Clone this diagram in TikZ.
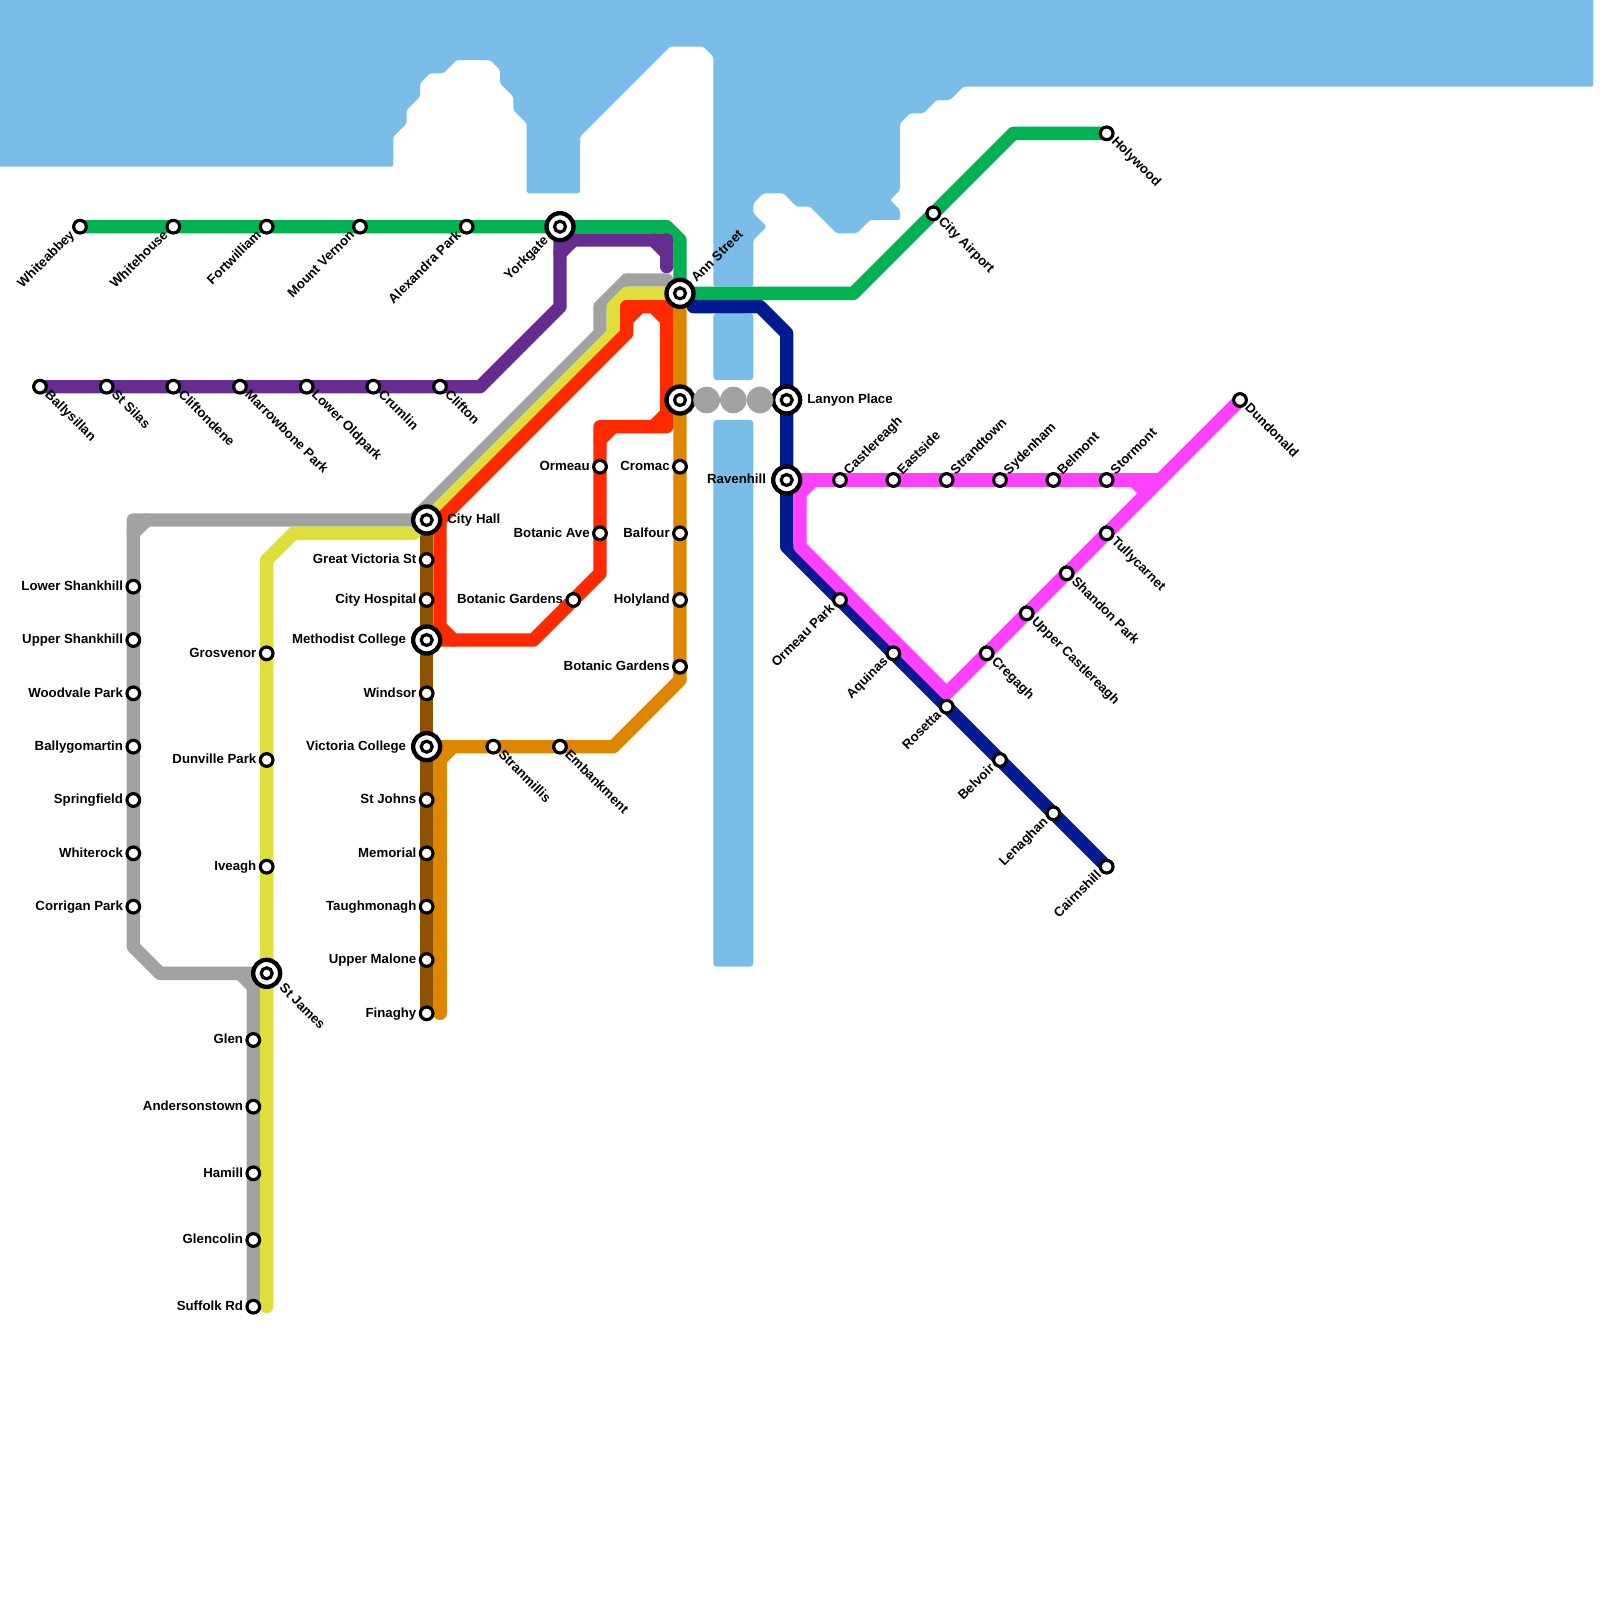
\documentclass[tikz,border=0pt]{standalone}
\usepackage{fontspec}
\setmainfont{Liberation Sans}
\pgfdeclarelayer{bg}
\pgfsetlayers{bg,main}
\definecolor{water}{HTML}{7ABDE9}
\definecolor{lgreen}{HTML}{00B251}
\definecolor{lpurple}{HTML}{662C90}
\definecolor{lgrey}{HTML}{A2A2A2}
\definecolor{lyellow}{HTML}{DFDF3B}
\definecolor{lred}{HTML}{FF2A00}
\definecolor{lorange}{HTML}{DF8600}
\definecolor{lbrown}{HTML}{8E5200}
\definecolor{lnavy}{HTML}{001A8F}
\definecolor{lpink}{HTML}{FF40FF}
\tikzset{
  x=0.4cm,y=-0.4cm,
  route/.style={line width=0.4cm,line cap=round,line join=round,draw=#1},
  waterarea/.style={fill=water,rounded corners=0.05cm},
  riverarea/.style={fill=water,rounded corners=0.1cm},
  stnmark/.style={circle,draw=black,fill=white,line width=0.095cm,inner sep=0pt,outer sep=0pt,minimum size=0.38cm},
  xchmark/.style={circle,draw=black,fill=white,line width=0.13cm,inner sep=0pt,outer sep=0pt,minimum size=0.81cm},
  xchcore/.style={circle,draw=black,fill=white,line width=0.095cm,inner sep=0pt,outer sep=0pt,minimum size=0.33cm},
  bubble/.style={circle,fill=lgrey,inner sep=0pt,outer sep=0pt,minimum size=0.8cm},
  txt/.style={inner sep=0pt,outer sep=0pt,font=\bfseries\fontsize{11.3}{13}\selectfont},
  L/.style={txt,anchor=mid east,xshift=-0.31cm,yshift=-0.02cm},
  R/.style={txt,anchor=mid west,xshift=0.31cm,yshift=-0.02cm},
  XL/.style={txt,anchor=mid east,xshift=-0.62cm,yshift=-0.02cm},
  XR/.style={txt,anchor=mid west,xshift=0.62cm,yshift=-0.02cm},
  UL/.style={txt,xshift=-0.21cm,yshift=-0.21cm,rotate=45,anchor=mid east},
  UR/.style={txt,xshift=0.21cm,yshift=0.21cm,rotate=45,anchor=mid west},
  DR/.style={txt,xshift=0.2cm,yshift=-0.2cm,rotate=-45,anchor=mid west},
  XUL/.style={txt,xshift=-0.4cm,yshift=-0.38cm,rotate=45,anchor=mid east},
  XUR/.style={txt,xshift=0.43cm,yshift=0.38cm,rotate=45,anchor=mid west},
  XDR/.style={txt,xshift=0.43cm,yshift=-0.4cm,rotate=-45,anchor=mid west},
}
\newcommand\stn[5]{\node[stnmark] (#1) at (#2,#3) {};\node[#5] (#1-t) at (#2,#3) {#4};}
\newcommand\xch[5]{\node[xchmark] (#1) at (#2,#3) {};\node[xchcore] (#1-i) at (#2,#3) {};\node[#5] (#1-t) at (#2,#3) {#4};}
\newcommand\xchb[3]{\node[xchmark] (#1) at (#2,#3) {};\node[xchcore] (#1-i) at (#2,#3) {};}
\begin{document}
\begin{tikzpicture}
\useasboundingbox (0,0) rectangle (120,120);
% green
\stn{whiteabbey}{6}{17}{Whiteabbey}{UL}
\stn{whitehouse}{13}{17}{Whitehouse}{UL}
\stn{fortwilliam}{20}{17}{Fortwilliam}{UL}
\stn{mountvernon}{27}{17}{Mount Vernon}{UL}
\stn{alexandra}{35}{17}{Alexandra Park}{UL}
\xch{yorkgate}{42}{17}{Yorkgate}{XUL}
\xch{annst}{51}{22}{Ann Street}{XUR}
\stn{cityairport}{70}{16}{City Airport}{DR}
\stn{holywood}{83}{10}{Holywood}{DR}
% purple
\stn{ballysillan}{3}{29}{Ballysillan}{DR}
\stn{stsilas}{8}{29}{St Silas}{DR}
\stn{cliftondene}{13}{29}{Cliftondene}{DR}
\stn{marrowbone}{18}{29}{Marrowbone Park}{DR}
\stn{loweroldpark}{23}{29}{Lower Oldpark}{DR}
\stn{crumlin}{28}{29}{Crumlin}{DR}
\stn{clifton}{33}{29}{Clifton}{DR}
% grey
\stn{lowershankhill}{10}{44}{Lower Shankhill}{L}
\stn{uppershankhill}{10}{48}{Upper Shankhill}{L}
\stn{woodvale}{10}{52}{Woodvale Park}{L}
\stn{ballygomartin}{10}{56}{Ballygomartin}{L}
\stn{springfield}{10}{60}{Springfield}{L}
\stn{whiterock}{10}{64}{Whiterock}{L}
\stn{corrigan}{10}{68}{Corrigan Park}{L}
\stn{glen}{19}{78}{Glen}{L}
\stn{andersonstown}{19}{83}{Andersonstown}{L}
\stn{hamill}{19}{88}{Hamill}{L}
\stn{glencolin}{19}{93}{Glencolin}{L}
\stn{suffolk}{19}{98}{Suffolk Rd}{L}
% yellow
\stn{grosvenor}{20}{49}{Grosvenor}{L}
\stn{dunville}{20}{57}{Dunville Park}{L}
\stn{iveagh}{20}{65}{Iveagh}{L}
\xch{stjames}{20}{73}{St James}{XDR}
% brown
\xch{cityhall}{32}{39}{City Hall}{XR}
\stn{gvs}{32}{42}{Great Victoria St}{L}
\stn{cityhospital}{32}{45}{City Hospital}{L}
\xch{methodist}{32}{48}{Methodist College}{XL}
\stn{windsor}{32}{52}{Windsor}{L}
\xch{victoria}{32}{56}{Victoria College}{XL}
\stn{stjohns}{32}{60}{St Johns}{L}
\stn{memorial}{32}{64}{Memorial}{L}
\stn{taughmonagh}{32}{68}{Taughmonagh}{L}
\stn{uppermalone}{32}{72}{Upper Malone}{L}
\stn{finaghy}{32}{76}{Finaghy}{L}
% orange
\stn{stranmillis}{37}{56}{Stranmillis}{DR}
\stn{embankment}{42}{56}{Embankment}{DR}
\xchb{gtvenue}{51}{30}
\stn{cromac}{51}{35}{Cromac}{L}
\stn{balfour}{51}{40}{Balfour}{L}
\stn{holyland}{51}{45}{Holyland}{L}
\stn{botanicgardensb}{51}{50}{Botanic Gardens}{L}
% red
\stn{ormeau}{45}{35}{Ormeau}{L}
\stn{botanicave}{45}{40}{Botanic Ave}{L}
\stn{botanicgardensa}{43}{45}{Botanic Gardens}{L}
% navy
\xch{lanyon}{59}{30}{Lanyon Place}{XR}
\xch{ravenhill}{59}{36}{Ravenhill}{XL}
\stn{ormeaupark}{63}{45}{Ormeau Park}{UL}
\stn{aquinas}{67}{49}{Aquinas}{UL}
\stn{rosetta}{71}{53}{Rosetta}{UL}
\stn{belvoir}{75}{57}{Belvoir}{UL}
\stn{lenaghan}{79}{61}{Lenaghan}{UL}
\stn{cairnshill}{83}{65}{Cairnshill}{UL}
% pink
\stn{castlereagh}{63}{36}{Castlereagh}{UR}
\stn{eastside}{67}{36}{Eastside}{UR}
\stn{strandtown}{71}{36}{Strandtown}{UR}
\stn{sydenham}{75}{36}{Sydenham}{UR}
\stn{belmont}{79}{36}{Belmont}{UR}
\stn{stormont}{83}{36}{Stormont}{UR}
\stn{tullycarnet}{83}{40}{Tullycarnet}{DR}
\stn{shandon}{80}{43}{Shandon Park}{DR}
\stn{uppercastlereagh}{77}{46}{Upper Castlereagh}{DR}
\stn{cregagh}{74}{49}{Cregagh}{DR}
\stn{dundonald}{93}{30}{Dundonald}{DR}
% bubbles
\node[bubble] (bub1) at (53,30) {};
\node[bubble] (bub2) at (55,30) {};
\node[bubble] (bub3) at (57,30) {};
\begin{pgfonlayer}{bg}
\fill[white] (0,0) rectangle (120,120);
% water
\fill[waterarea] (-1,-1) -- (-1,12.5) -- (29.5,12.5) -- (29.5,10.25) -- (30.5,9.25) -- (30.5,8.25) -- (31.5,7.25) -- (31.5,6.25) -- (32.25,5.5) -- (33.25,5.5) -- (34.25,4.5) -- (36.75,4.5) -- (37.5,5.25) -- (37.5,6.25) -- (38.5,7.25) -- (38.5,8.25) -- (39.5,9.25) -- (39.5,14.5) -- (43.5,14.5) -- (43.5,10.25) -- (50.25,3.5) -- (52.75,3.5) -- (53.5,4.25) -- (53.5,21.5) -- (56.5,21.5) -- (56.5,18) -- (57.5,17) -- (56.5,16) -- (56.5,15.25) -- (57.25,14.5) -- (58.75,14.5) -- (59.75,15.5) -- (60.75,15.5) -- (62.75,17.5) -- (64.25,17.5) -- (65.25,16.5) -- (67.5,16.5) -- (67.5,15.75) -- (66.75,15) -- (67.5,14.25) -- (67.5,9.25) -- (68.25,8.5) -- (69.25,8.5) -- (70.25,7.5) -- (71.25,7.5) -- (72.25,6.5) -- (119.5,6.5) -- (119.5,-1) -- cycle;
\fill[riverarea] (53.5,23.5) rectangle (56.5,28.5);
\fill[riverarea] (53.5,31.5) rectangle (56.5,72.5);
% routes
\draw[route=lbrown] (cityhall.center) -- (finaghy.center);
\draw[route=lgreen] (whiteabbey.center) -- (yorkgate.center) -- (50,17) -- (51,18) -- (annst.center) -- (64,22) -- (76,10) -- (holywood.center);
\draw[route=lpurple] (ballysillan.center) -- (36,29) -- (42,23) -- (42,18) -- (50,18) -- (50,20);
\draw[route=lpurple] (42,19) -- (43,18) (49,18) -- (50,19);
\draw[route=lgrey] (50,21) -- (47,21) -- (45,23) -- (45,25) -- (31,39) -- (10,39) -- (10,71) -- (12,73) -- (18,73) -- (19,74) -- (suffolk.center);
\draw[route=lgrey] (10,40) -- (11,39) (18,73) -- (19,73) -- (19,74);
\draw[route=lyellow] (50,22) -- (47,22) -- (46,23) -- (46,25) -- (31,40) -- (22,40) -- (20,42) -- (20,98);
\draw[route=lorange] (annst.center) -- (51,51) -- (46,56) -- (victoria.center);
\draw[route=lorange] (33,56) -- (33,76);
\draw[route=lorange] (33,57) -- (34,56);
\draw[route=lred] (47,25) -- (33,39) -- (33,48) -- (40,48) -- (45,43) -- (45,32) -- (50,32) -- (50,23) -- (47,23) -- cycle;
\draw[route=lred] (33,47) -- (34,48) (45,33) -- (46,32) (49,32) -- (50,31) (50,24) -- (49,23) (48,23) -- (47,24);
\draw[route=lnavy] (52,23) -- (57,23) -- (59,25) -- (59,41) -- (cairnshill.center);
\draw[route=lpink] (ravenhill.center) -- (87,36);
\draw[route=lpink] (60,36) -- (60,41) -- (71,52) -- (dundonald.center);
\draw[route=lpink] (60,37) -- (61,36) (85,36) -- (86,37);
\end{pgfonlayer}
\end{tikzpicture}
\end{document}
